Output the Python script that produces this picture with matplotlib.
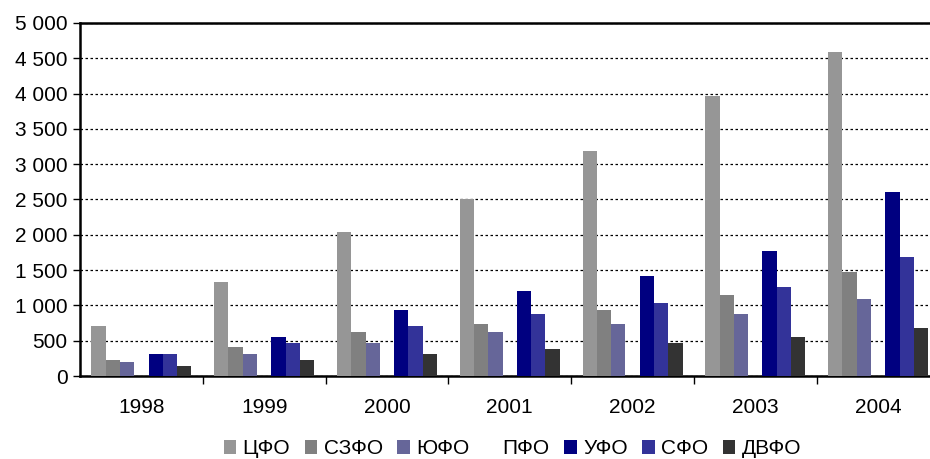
import numpy as np
import matplotlib.pyplot as plt
from matplotlib.ticker import FuncFormatter, MultipleLocator, FixedLocator

plt.rcParams['font.family'] = ['Liberation Sans', 'DejaVu Sans']

years = ['1998', '1999', '2000', '2001', '2002', '2003', '2004']
districts = ['ЦФО', 'СЗФО', 'ЮФО', 'ПФО', 'УФО', 'СФО', 'ДВФО']
colors = ['#969696', '#808080', '#666699', '#ffffff', '#000080', '#333399', '#333333']

cfo = [710, 1330, 2040, 2500, 3190, 3970, 4590]
szfo = [230, 410, 620, 740, 935, 1150, 1470]
yufo = [200, 310, 470, 620, 740, 880, 1090]
pfo = [0, 0, 0, 0, 0, 0, 0]
ufo = [310, 550, 935, 1200, 1420, 1770, 2600]
sfo = [310, 470, 710, 880, 1030, 1260, 1690]
dvfo = [140, 230, 310, 385, 470, 555, 680]
series = [cfo, szfo, yufo, pfo, ufo, sfo, dvfo]

fig = plt.figure(figsize=(9.3, 4.59), dpi=100)
ax = fig.add_axes([80 / 930, 83 / 459, 850 / 930, 353 / 459])

x = np.arange(len(years))
n = len(series)
width = 1 / (n + 1.6)
for i, (vals, name, c) in enumerate(zip(series, districts, colors)):
    ax.bar(x + (i - (n - 1) / 2) * width, vals, width, color=c, label=name,
           linewidth=0, zorder=3)

ax.set_ylim(0, 5000)
ax.set_xlim(-0.5, 6.5 - 9.5 / 122.8)
ax.yaxis.set_major_locator(MultipleLocator(500))
ax.yaxis.set_major_formatter(FuncFormatter(lambda v, p: f'{int(v):,}'.replace(',', ' ')))
ax.grid(axis='y', color='black', linestyle=(0, (2, 2)), linewidth=0.9, zorder=1)

# ticks between groups, labels at group centres
ax.xaxis.set_major_locator(FixedLocator(x[:-1] + 0.5))
ax.xaxis.set_major_formatter(FuncFormatter(lambda v, p: ''))
ax.set_xticks(x, years, minor=True)
ax.tick_params(axis='x', which='major', length=6, width=1, direction='out')
ax.tick_params(axis='x', which='minor', length=0, pad=16, labelsize=15)
ax.tick_params(axis='y', length=5, width=1, labelsize=15, pad=4)

ax.spines['right'].set_visible(False)
for s in ['left', 'bottom', 'top']:
    ax.spines[s].set_linewidth(1.8)
    ax.spines[s].set_color('black')

fig.legend(loc='center', bbox_to_anchor=(0.551, 0.022), ncol=7, frameon=False,
           fontsize=15, handlelength=0.6, handleheight=0.6, handletextpad=0.3,
           columnspacing=0.7, borderaxespad=0)

fig.savefig('out.png', dpi=100)
